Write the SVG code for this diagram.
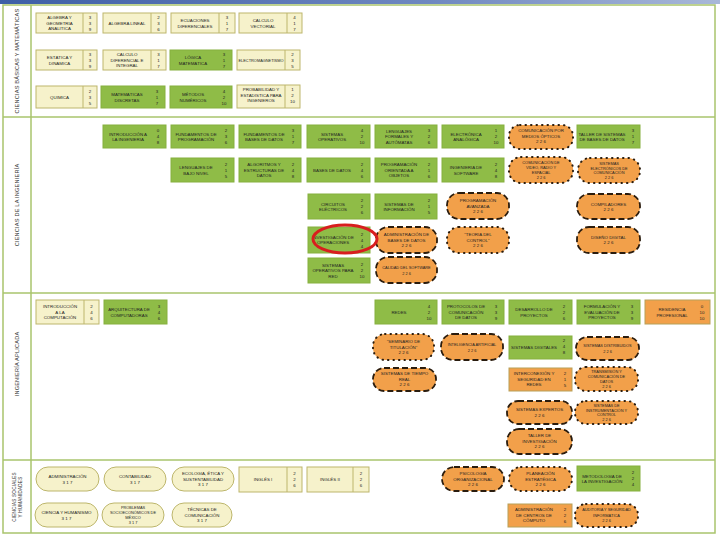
<svg xmlns="http://www.w3.org/2000/svg" width="720" height="540" viewBox="0 0 720 540">
<defs>
<linearGradient id="bar" x1="0" y1="0" x2="1" y2="0"><stop offset="0" stop-color="#3d5ea6"/><stop offset="0.6" stop-color="#6f88c0"/><stop offset="1" stop-color="#a9b8d8"/></linearGradient>
<style>
text{font-family:"Liberation Sans",Arial,sans-serif;font-size:4.4px;fill:#222;text-anchor:middle}
.s{font-size:3.9px}
.vl{font-size:5.6px;fill:#333;letter-spacing:0.2px}
.c{fill:#f6f2cb;stroke:#bdb66c;stroke-width:1}
.g{fill:#8fbc47;stroke:#86b03f;stroke-width:1}
.o{fill:#f2a04a;stroke:#2a1c0e;stroke-width:1.8;stroke-dasharray:6 3}
.od{fill:#f2a04a;stroke:#2a1c0e;stroke-width:2;stroke-dasharray:0.5 5;stroke-linecap:round}
.or{fill:#f2a04a;stroke:#b7a058;stroke-width:1}
.cp{fill:#f6f2cb;stroke:#bdb66c;stroke-width:1}
.dv{stroke:#bdb66c;stroke-width:1}
.fr{stroke:#a9c46c;stroke-width:1.5;fill:none}
</style>
</defs>
<rect x="0" y="0" width="720" height="4" fill="url(#bar)"/>
<g id="frame">
<rect class="fr" x="3" y="5" width="712" height="528"/>
<line class="fr" x1="31" y1="5" x2="31" y2="533"/>
<line class="fr" x1="3" y1="117" x2="715" y2="117"/>
<line class="fr" x1="3" y1="293" x2="715" y2="293"/>
<line class="fr" x1="3" y1="460" x2="715" y2="460"/>
<text class="vl" transform="translate(19,61) rotate(-90)">CIENCIAS BÁSICAS Y MATEMÁTICAS</text>
<text class="vl" transform="translate(19,205) rotate(-90)">CIENCIAS DE LA INGENIERÍA</text>
<text class="vl" transform="translate(19,364) rotate(-90)">INGENIERÍA APLICADA</text>
<text class="vl" style="font-size:4.6px" transform="translate(16,497) rotate(-90)">CIENCIAS SOCIALES</text>
<text class="vl" style="font-size:4.6px" transform="translate(22,497) rotate(-90)">Y HUMANIDADES</text>
</g>
<g id="connectors"></g>

<!-- Section 1 -->
<g id="n1"><rect class="c" x="36" y="13" width="61" height="20"/><line class="dv" x1="83" y1="13" x2="83" y2="33"/><text x="59.5" y="19.2">ÁLGEBRA Y<tspan x="59.5" dy="5.5">GEOMETRÍA</tspan><tspan x="59.5" dy="5.5">ANALÍTICA</tspan></text><text x="90" y="18.7">3<tspan x="90" dy="6">3</tspan><tspan x="90" dy="6">9</tspan></text></g>
<g id="n2"><rect class="c" x="103" y="13" width="63" height="20"/><line class="dv" x1="151" y1="13" x2="151" y2="33"/><text x="127" y="24.7">ÁLGEBRA LINEAL</text><text x="158.5" y="18.7">2<tspan x="158.5" dy="6">3</tspan><tspan x="158.5" dy="6">6</tspan></text></g>
<g id="n3"><rect class="c" x="171" y="13" width="64" height="20"/><line class="dv" x1="219" y1="13" x2="219" y2="33"/><text x="195" y="22">ECUACIONES<tspan x="195" dy="5.5">DIFERENCIALES</tspan></text><text x="227" y="18.7">3<tspan x="227" dy="6">1</tspan><tspan x="227" dy="6">7</tspan></text></g>
<g id="n4"><rect class="c" x="239" y="13" width="63" height="20"/><line class="dv" x1="287" y1="13" x2="287" y2="33"/><text x="263" y="22">CÁLCULO<tspan x="263" dy="5.5">VECTORIAL</tspan></text><text x="294.5" y="18.7">4<tspan x="294.5" dy="6">1</tspan><tspan x="294.5" dy="6">7</tspan></text></g>

<g id="n5"><rect class="c" x="36" y="50" width="61" height="20"/><line class="dv" x1="83" y1="50" x2="83" y2="70"/><text x="59.5" y="59">ESTÁTICA Y<tspan x="59.5" dy="5.5">DINÁMICA</tspan></text><text x="90" y="55.7">3<tspan x="90" dy="6">3</tspan><tspan x="90" dy="6">9</tspan></text></g>
<g id="n6"><rect class="c" x="103" y="50" width="63" height="20"/><line class="dv" x1="151" y1="50" x2="151" y2="70"/><text x="127" y="56.2">CÁLCULO<tspan x="127" dy="5.5">DIFERENCIAL E</tspan><tspan x="127" dy="5.5">INTEGRAL</tspan></text><text x="158.5" y="55.7">3<tspan x="158.5" dy="6">1</tspan><tspan x="158.5" dy="6">7</tspan></text></g>
<g id="n7"><rect class="g" x="170" y="50" width="62" height="20"/><text x="193" y="59">LÓGICA<tspan x="193" dy="5.5">MATEMÁTICA</tspan></text><text x="224" y="55.7">3<tspan x="224" dy="6">1</tspan><tspan x="224" dy="6">7</tspan></text></g>
<g id="n8"><rect class="c" x="237" y="50" width="63" height="20"/><line class="dv" x1="285" y1="50" x2="285" y2="70"/><text class="s" x="261" y="61.5">ELECTROMAGNETISMO</text><text x="292.5" y="55.7">2<tspan x="292.5" dy="6">3</tspan><tspan x="292.5" dy="6">5</tspan></text></g>

<g id="n9"><rect class="c" x="36" y="86" width="61" height="22"/><line class="dv" x1="83" y1="86" x2="83" y2="108"/><text x="59.5" y="98.7">QUÍMICA</text><text x="90" y="92.7">2<tspan x="90" dy="6">3</tspan><tspan x="90" dy="6">5</tspan></text></g>
<g id="n10"><rect class="g" x="101" y="86" width="64" height="22"/><text x="127" y="96">MATEMÁTICAS<tspan x="127" dy="5.5">DISCRETAS</tspan></text><text x="157" y="92.7">3<tspan x="157" dy="6">1</tspan><tspan x="157" dy="6">7</tspan></text></g>
<g id="n11"><rect class="g" x="170" y="86" width="62" height="22"/><text x="193" y="96">MÉTODOS<tspan x="193" dy="5.5">NUMÉRICOS</tspan></text><text x="224" y="92.7">4<tspan x="224" dy="6">2</tspan><tspan x="224" dy="6">10</tspan></text></g>
<g id="n12"><rect class="c" x="237" y="85" width="63" height="23"/><line class="dv" x1="285" y1="85" x2="285" y2="108"/><text x="261" y="91.2">PROBABILIDAD Y<tspan x="261" dy="5.5">ESTADÍSTICA PARA</tspan><tspan x="261" dy="5.5">INGENIEROS</tspan></text><text x="292.5" y="90.7">1<tspan x="292.5" dy="6">2</tspan><tspan x="292.5" dy="6">10</tspan></text></g>

<!-- Section 2 -->
<g id="n13"><rect class="g" x="103" y="125" width="63" height="23"/><text x="128" y="135.5">INTRODUCCIÓN A<tspan x="128" dy="5.5">LA INGENIERÍA</tspan></text><text x="158" y="132.2">0<tspan x="158" dy="6">4</tspan><tspan x="158" dy="6">8</tspan></text></g>
<g id="n14"><rect class="g" x="171" y="125" width="63" height="23"/><text x="196" y="135.5">FUNDAMENTOS DE<tspan x="196" dy="5.5">PROGRAMACIÓN</tspan></text><text x="226" y="132.2">2<tspan x="226" dy="6">3</tspan><tspan x="226" dy="6">6</tspan></text></g>
<g id="n15"><rect class="g" x="239" y="125" width="62" height="23"/><text x="264" y="135.5">FUNDAMENTOS DE<tspan x="264" dy="5.5">BASES DE DATOS</tspan></text><text x="293" y="132.2">3<tspan x="293" dy="6">1</tspan><tspan x="293" dy="6">7</tspan></text></g>
<g id="n16"><rect class="g" x="307" y="125" width="63" height="23"/><text x="332" y="135.5">SISTEMAS<tspan x="332" dy="5.5">OPERATIVOS</tspan></text><text x="362" y="132.2">4<tspan x="362" dy="6">2</tspan><tspan x="362" dy="6">10</tspan></text></g>
<g id="n17"><rect class="g" x="375" y="125" width="62" height="23"/><text x="399" y="132.7">LENGUAJES<tspan x="399" dy="5.5">FORMALES Y</tspan><tspan x="399" dy="5.5">AUTÓMATAS</tspan></text><text x="429" y="132.2">3<tspan x="429" dy="6">2</tspan><tspan x="429" dy="6">6</tspan></text></g>
<g id="n18"><rect class="g" x="442" y="125" width="62" height="23"/><text x="466" y="135.5">ELECTRÓNICA<tspan x="466" dy="5.5">ANALÓGICA</tspan></text><text x="496" y="132.2">1<tspan x="496" dy="6">2</tspan><tspan x="496" dy="6">10</tspan></text></g>
<g id="n19"><rect class="od" x="509" y="125" width="64" height="24" rx="11"/><text x="541" y="132.2">COMUNICACIÓN POR<tspan x="541" dy="5.5">MEDIOS ÓPTICOS</tspan><tspan x="541" dy="5.5">2 2 6</tspan></text></g>
<g id="n20"><rect class="g" x="577" y="125" width="63" height="23"/><text x="602" y="135.5">TALLER DE SISTEMAS<tspan x="602" dy="5.5">DE BASES DE DATOS</tspan></text><text x="633" y="132.2">3<tspan x="633" dy="6">1</tspan><tspan x="633" dy="6">7</tspan></text></g>

<g id="n21"><rect class="g" x="171" y="158" width="63" height="24"/><text x="196" y="169">LENGUAJES DE<tspan x="196" dy="5.5">BAJO NIVEL</tspan></text><text x="226" y="165.7">2<tspan x="226" dy="6">1</tspan><tspan x="226" dy="6">5</tspan></text></g>
<g id="n22"><rect class="g" x="239" y="158" width="62" height="24"/><text x="264" y="166.2">ALGORITMOS Y<tspan x="264" dy="5.5">ESTRUCTURAS DE</tspan><tspan x="264" dy="5.5">DATOS</tspan></text><text x="293" y="165.7">2<tspan x="293" dy="6">4</tspan><tspan x="293" dy="6">8</tspan></text></g>
<g id="n23"><rect class="g" x="307" y="158" width="63" height="24"/><text x="332" y="171.7">BASES DE DATOS</text><text x="362" y="165.7">2<tspan x="362" dy="6">4</tspan><tspan x="362" dy="6">6</tspan></text></g>
<g id="n24"><rect class="g" x="375" y="158" width="62" height="24"/><text x="399" y="166.2">PROGRAMACIÓN<tspan x="399" dy="5.5">ORIENTADA A</tspan><tspan x="399" dy="5.5">OBJETOS</tspan></text><text x="429" y="165.7">2<tspan x="429" dy="6">1</tspan><tspan x="429" dy="6">6</tspan></text></g>
<g id="n25"><rect class="g" x="442" y="158" width="62" height="24"/><text x="466" y="169">INGENIERÍA DE<tspan x="466" dy="5.5">SOFTWARE</tspan></text><text x="496" y="165.7">2<tspan x="496" dy="6">4</tspan><tspan x="496" dy="6">8</tspan></text></g>
<g id="n26"><rect class="od" x="509" y="157" width="64" height="26" rx="12"/><text class="s" x="541" y="164.2">COMUNICACIÓN DE<tspan x="541" dy="4.8">VIDEO, RADIO Y</tspan><tspan x="541" dy="4.8">ESPACIAL</tspan><tspan x="541" dy="4.8">2 2 6</tspan></text></g>
<g id="n27"><rect class="od" x="578" y="158" width="62" height="25" rx="12"/><text class="s" x="609" y="164.7">SISTEMAS<tspan x="609" dy="4.8">ELECTRÓNICOS DE</tspan><tspan x="609" dy="4.8">COMUNICACIÓN</tspan><tspan x="609" dy="4.8">2 2 6</tspan></text></g>

<g id="n28"><rect class="g" x="308" y="194" width="62" height="25"/><text x="333" y="205.5">CIRCUITOS<tspan x="333" dy="5.5">ELÉCTRICOS</tspan></text><text x="362" y="202.2">2<tspan x="362" dy="6">2</tspan><tspan x="362" dy="6">6</tspan></text></g>
<g id="n29"><rect class="g" x="375" y="194" width="62" height="25"/><text x="399" y="205.5">SISTEMAS DE<tspan x="399" dy="5.5">INFORMACIÓN</tspan></text><text x="429" y="202.2">2<tspan x="429" dy="6">1</tspan><tspan x="429" dy="6">5</tspan></text></g>
<g id="n30"><rect class="o" x="447" y="193" width="62" height="26" rx="12"/><text x="478" y="202.2">PROGRAMACIÓN<tspan x="478" dy="5.5">AVANZADA</tspan><tspan x="478" dy="5.5">2 2 6</tspan></text></g>
<g id="n31"><rect class="o" x="577" y="194" width="63" height="25" rx="12"/><text x="608.5" y="205.5">COMPILADORES<tspan x="608.5" dy="5.5">2 2 6</tspan></text></g>

<g id="n32"><rect class="g" x="308" y="227" width="62" height="26"/><text x="333" y="238.8">INVESTIGACIÓN DE<tspan x="333" dy="5.5">OPERACIONES</tspan></text><text x="362" y="235.7">2<tspan x="362" dy="6">4</tspan><tspan x="362" dy="6">4</tspan></text></g>
<g id="n33"><rect class="o" x="376" y="227" width="61" height="26" rx="12"/><text x="406.5" y="236.2">ADMINISTRACIÓN DE<tspan x="406.5" dy="5.5">BASES DE DATOS</tspan><tspan x="406.5" dy="5.5">2 2 6</tspan></text></g>
<g id="n34"><rect class="od" x="447" y="227" width="62" height="26" rx="12"/><text x="478" y="236.2">"TEORÍA DEL<tspan x="478" dy="5.5">CONTROL"</tspan><tspan x="478" dy="5.5">2 2 6</tspan></text></g>
<g id="n35"><rect class="o" x="577" y="227" width="63" height="26" rx="12"/><text x="608.5" y="238.8">DISEÑO DIGITAL<tspan x="608.5" dy="5.5">2 2 6</tspan></text></g>

<g id="n36"><rect class="g" x="308" y="258" width="62" height="25"/><text x="333" y="266.7">SISTEMAS<tspan x="333" dy="5.5">OPERATIVOS PARA</tspan><tspan x="333" dy="5.5">RED</tspan></text><text x="362" y="266.2">2<tspan x="362" dy="6">2</tspan><tspan x="362" dy="6">10</tspan></text></g>
<g id="n37"><rect class="o" x="376" y="257" width="61" height="26" rx="12"/><text class="s" x="406.5" y="269">CALIDAD DEL SOFTWARE<tspan x="406.5" dy="5.5">2 2 6</tspan></text></g>

<g id="marca"><ellipse cx="345" cy="239" rx="32" ry="14" fill="none" stroke="#d81e1e" stroke-width="3"/></g>

<!-- Section 3 -->
<g id="n38"><rect class="c" x="36" y="300" width="63" height="24"/><line class="dv" x1="84" y1="300" x2="84" y2="324"/><text x="60" y="308.2">INTRODUCCIÓN<tspan x="60" dy="5.5">A LA</tspan><tspan x="60" dy="5.5">COMPUTACIÓN</tspan></text><text x="91.5" y="307.7">2<tspan x="91.5" dy="6">4</tspan><tspan x="91.5" dy="6">6</tspan></text></g>
<g id="n39"><rect class="g" x="104" y="300" width="63" height="24"/><text x="129" y="311">ARQUITECTURA DE<tspan x="129" dy="5.5">COMPUTADORAS</tspan></text><text x="159" y="307.7">3<tspan x="159" dy="6">4</tspan><tspan x="159" dy="6">6</tspan></text></g>
<g id="n40"><rect class="g" x="375" y="300" width="62" height="24"/><text x="399" y="313.7">REDES</text><text x="429" y="307.7">4<tspan x="429" dy="6">2</tspan><tspan x="429" dy="6">10</tspan></text></g>
<g id="n41"><rect class="g" x="442" y="300" width="62" height="24"/><text x="466" y="308.2">PROTOCOLOS DE<tspan x="466" dy="5.5">COMUNICACIÓN</tspan><tspan x="466" dy="5.5">DE DATOS</tspan></text><text x="496" y="307.7">3<tspan x="496" dy="6">3</tspan><tspan x="496" dy="6">9</tspan></text></g>
<g id="n42"><rect class="g" x="509" y="300" width="63" height="24"/><text x="534" y="311">DESARROLLO DE<tspan x="534" dy="5.5">PROYECTOS</tspan></text><text x="564" y="307.7">2<tspan x="564" dy="6">2</tspan><tspan x="564" dy="6">6</tspan></text></g>
<g id="n43"><rect class="g" x="577" y="300" width="63" height="24"/><text x="602" y="308.2">FORMULACIÓN Y<tspan x="602" dy="5.5">EVALUACIÓN DE</tspan><tspan x="602" dy="5.5">PROYECTOS</tspan></text><text x="632" y="307.7">3<tspan x="632" dy="6">3</tspan><tspan x="632" dy="6">9</tspan></text></g>
<g id="n44"><rect class="or" x="645" y="300" width="65" height="24"/><text x="672" y="311">RESIDENCIA<tspan x="672" dy="5.5">PROFESIONAL</tspan></text><text x="702" y="307.7">0<tspan x="702" dy="6">10</tspan><tspan x="702" dy="6">10</tspan></text></g>

<g id="n45"><rect class="od" x="373" y="334" width="61" height="26" rx="12"/><text x="403.5" y="343.2">"SEMINARIO DE<tspan x="403.5" dy="5.5">TITULACIÓN"</tspan><tspan x="403.5" dy="5.5">2 2 6</tspan></text></g>
<g id="n46"><rect class="o" x="441" y="334" width="62" height="26" rx="12"/><text class="s" x="472" y="346">INTELIGENCIA ARTIFICIAL<tspan x="472" dy="5.5">2 2 6</tspan></text></g>
<g id="n47"><rect class="g" x="509" y="336" width="63" height="23"/><text x="534" y="349.2">SISTEMAS DIGITALES</text><text x="564" y="341.7">2<tspan x="564" dy="6">4</tspan><tspan x="564" dy="6">8</tspan></text></g>
<g id="n48"><rect class="o" x="576" y="337" width="63" height="23" rx="11"/><text class="s" x="607.5" y="347">SISTEMAS DISTRIBUIDOS<tspan x="607.5" dy="5.5">2 2 6</tspan></text></g>

<g id="n49"><rect class="o" x="373" y="368" width="63" height="23" rx="11"/><text x="404.5" y="375.2">SISTEMAS DE TIEMPO<tspan x="404.5" dy="5.5">REAL</tspan><tspan x="404.5" dy="5.5">2 2 6</tspan></text></g>
<g id="n50"><rect class="or" x="509" y="368" width="63" height="23"/><text x="534" y="375.2">INTERCONEXIÓN Y<tspan x="534" dy="5.5">SEGURIDAD EN</tspan><tspan x="534" dy="5.5">REDES</tspan></text><text x="565" y="375.2">2<tspan x="565" dy="6">1</tspan><tspan x="565" dy="6">5</tspan></text></g>
<g id="n51"><rect class="od" x="575" y="367" width="63" height="24" rx="11"/><text class="s" x="606.5" y="373.2">TRANSMISIÓN Y<tspan x="606.5" dy="4.8">COMUNICACIÓN DE</tspan><tspan x="606.5" dy="4.8">DATOS</tspan><tspan x="606.5" dy="4.8">2 2 6</tspan></text></g>

<g id="n52"><rect class="o" x="507" y="401" width="65" height="23" rx="11"/><text x="539.5" y="411">SISTEMAS EXPERTOS<tspan x="539.5" dy="5.5">2 2 6</tspan></text></g>
<g id="n53"><rect class="od" x="575" y="401" width="63" height="23" rx="11"/><text class="s" x="606.5" y="406.7">SISTEMAS DE<tspan x="606.5" dy="4.8">INSTRUMENTACIÓN Y</tspan><tspan x="606.5" dy="4.8">CONTROL</tspan><tspan x="606.5" dy="4.8">2 2 6</tspan></text></g>
<g id="n54"><rect class="o" x="507" y="429" width="65" height="25" rx="12"/><text x="539.5" y="437.2">TALLER DE<tspan x="539.5" dy="5.5">INVESTIGACIÓN</tspan><tspan x="539.5" dy="5.5">2 2 6</tspan></text></g>

<!-- Section 4 -->
<g id="n55"><rect class="cp" x="36" y="467" width="63" height="24" rx="12"/><text x="67.5" y="478">ADMINISTRACIÓN<tspan x="67.5" dy="5.5">3 1 7</tspan></text></g>
<g id="n56"><rect class="cp" x="104" y="467" width="62" height="24" rx="12"/><text x="135" y="478">CONTABILIDAD<tspan x="135" dy="5.5">3 1 7</tspan></text></g>
<g id="n57"><rect class="cp" x="172" y="467" width="62" height="24" rx="12"/><text x="203" y="475.2">ECOLOGÍA, ÉTICA Y<tspan x="203" dy="5.5">SUSTENTABILIDAD</tspan><tspan x="203" dy="5.5">3 1 7</tspan></text></g>
<g id="n58"><rect class="c" x="239" y="467" width="63" height="25"/><line class="dv" x1="287" y1="467" x2="287" y2="492"/><text x="263" y="481.2">INGLÉS I</text><text x="294.5" y="475.2">2<tspan x="294.5" dy="6">2</tspan><tspan x="294.5" dy="6">6</tspan></text></g>
<g id="n59"><rect class="c" x="307" y="467" width="62" height="25"/><line class="dv" x1="353" y1="467" x2="353" y2="492"/><text x="330" y="481.2">INGLÉS II</text><text x="361" y="475.2">2<tspan x="361" dy="6">2</tspan><tspan x="361" dy="6">6</tspan></text></g>
<g id="n60"><rect class="o" x="442" y="467" width="62" height="24" rx="12"/><text x="473" y="475.2">PSICOLOGÍA<tspan x="473" dy="5.5">ORGANIZACIONAL</tspan><tspan x="473" dy="5.5">2 2 6</tspan></text></g>
<g id="n61"><rect class="od" x="509" y="467" width="63" height="24" rx="12"/><text x="540.5" y="475.2">PLANEACIÓN<tspan x="540.5" dy="5.5">ESTRATÉGICA</tspan><tspan x="540.5" dy="5.5">2 2 6</tspan></text></g>
<g id="n62"><rect class="g" x="577" y="466" width="63" height="25"/><text x="602" y="477.5">METODOLOGÍA DE<tspan x="602" dy="5.5">LA INVESTIGACIÓN</tspan></text><text x="633" y="474.2">2<tspan x="633" dy="6">2</tspan><tspan x="633" dy="6">4</tspan></text></g>

<g id="n63"><rect class="cp" x="35" y="503" width="63" height="24" rx="12"/><text x="66.5" y="514">CIENCIA Y HUMANISMO<tspan x="66.5" dy="5.5">3 1 7</tspan></text></g>
<g id="n64"><rect class="cp" x="102" y="503" width="62" height="24" rx="12"/><text class="s" x="133" y="509.2">PROBLEMAS<tspan x="133" dy="4.8">SOCIOECONÓMICOS DE</tspan><tspan x="133" dy="4.8">MÉXICO</tspan><tspan x="133" dy="4.8">3 1 7</tspan></text></g>
<g id="n65"><rect class="cp" x="172" y="503" width="60" height="24" rx="12"/><text x="202" y="511.2">TÉCNICAS DE<tspan x="202" dy="5.5">COMUNICACIÓN</tspan><tspan x="202" dy="5.5">3 1 7</tspan></text></g>
<g id="n66"><rect class="or" x="508" y="504" width="64" height="23"/><text x="534" y="511.2">ADMINISTRACIÓN<tspan x="534" dy="5.5">DE CENTROS DE</tspan><tspan x="534" dy="5.5">CÓMPUTO</tspan></text><text x="565" y="510.7">2<tspan x="565" dy="6">2</tspan><tspan x="565" dy="6">6</tspan></text></g>
<g id="n67"><rect class="od" x="575" y="504" width="63" height="23" rx="11"/><text class="s" x="606.5" y="511.2">AUDITORÍA Y SEGURIDAD<tspan x="606.5" dy="5.5">INFORMÁTICA</tspan><tspan x="606.5" dy="5.5">2 2 6</tspan></text></g>
</svg>
